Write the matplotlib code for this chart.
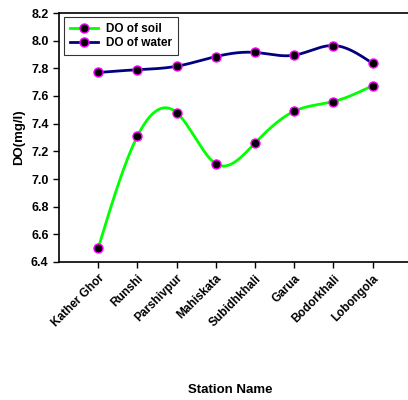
import matplotlib.pyplot as plt
import numpy as np

plt.rcParams['font.family'] = ['Liberation Sans', 'DejaVu Sans']
plt.rcParams['font.weight'] = 'bold'

stations = ["Kather Ghor", "Runshi", "Parshivpur", "Mahiskata",
            "Subidhkhali", "Garua", "Bodorkhali", "Lobongola"]
do_soil = [6.50, 7.31, 7.48, 7.11, 7.26, 7.49, 7.56, 7.675]
do_water = [7.77, 7.79, 7.815, 7.885, 7.915, 7.895, 7.965, 7.835]
yticks = [6.4, 6.6, 6.8, 7.0, 7.2, 7.4, 7.6, 7.8, 8.0, 8.2]


def natural_spline(x, y, n=40):
    # natural cubic spline through the points, for the smoothed lines
    x = np.asarray(x, float)
    y = np.asarray(y, float)
    k = len(x)
    h = np.diff(x)
    A = np.zeros((k, k))
    b = np.zeros(k)
    A[0, 0] = A[-1, -1] = 1
    for i in range(1, k - 1):
        A[i, i - 1] = h[i - 1]
        A[i, i] = 2 * (h[i - 1] + h[i])
        A[i, i + 1] = h[i]
        b[i] = 3 * ((y[i + 1] - y[i]) / h[i] - (y[i] - y[i - 1]) / h[i - 1])
    c = np.linalg.solve(A, b)
    xs, ys = [], []
    for i in range(k - 1):
        t = np.linspace(0, h[i], n, endpoint=(i == k - 2))
        bi = (y[i + 1] - y[i]) / h[i] - h[i] * (2 * c[i] + c[i + 1]) / 3
        di = (c[i + 1] - c[i]) / (3 * h[i])
        xs.append(x[i] + t)
        ys.append(y[i] + bi * t + c[i] * t ** 2 + di * t ** 3)
    return np.concatenate(xs), np.concatenate(ys)


x = np.arange(len(stations))

fig = plt.figure(figsize=(4.08, 4.0), dpi=100)
ax = fig.add_axes([0.1446, 0.345, 0.865, 0.6225])

mk = dict(marker='o', ms=6.5, mfc='black', mec='#ff00ff', mew=1.0)
for vals, col, lab in [(do_soil, '#00ff00', 'DO of soil'),
                       (do_water, '#000080', 'DO of water')]:
    sx, sy = natural_spline(x, vals)
    ax.plot(sx, sy, color=col, lw=2, zorder=2)
    ax.plot(x, vals, ls='none', zorder=3, **mk)
    ax.plot([], [], color=col, lw=2, label=lab, **mk)

ax.set_xlim(-1, 8)
ax.set_ylim(6.4, 8.2)
ax.set_yticks(yticks)
ax.set_yticklabels([f"{v:.1f}" for v in yticks], fontsize=9, fontweight='bold')
ax.set_xticks(x)
ax.set_xticklabels(stations, rotation=45, ha='right', va='top',
                   rotation_mode='anchor', fontsize=8.5, fontweight='bold')
ax.tick_params(direction='out', length=4, width=1)
ax.spines['right'].set_visible(False)
for s in ['left', 'bottom', 'top']:
    ax.spines[s].set_linewidth(1.2)

ax.set_ylabel('DO(mg/l)', fontsize=9.5, fontweight='bold', labelpad=4)
fig.text(0.565, 0.01, 'Station Name', ha='center', va='bottom',
         fontsize=9.5, fontweight='bold')

leg = ax.legend(loc='upper left', bbox_to_anchor=(0.014, 0.984), fontsize=8.5,
                frameon=True, fancybox=False, edgecolor='black',
                borderaxespad=0, handlelength=2.4, borderpad=0.5,
                labelspacing=0.2, handletextpad=0.7)
leg.get_frame().set_linewidth(0.8)
for t in leg.get_texts():
    t.set_fontweight('bold')

fig.savefig('out.png', dpi=100)
